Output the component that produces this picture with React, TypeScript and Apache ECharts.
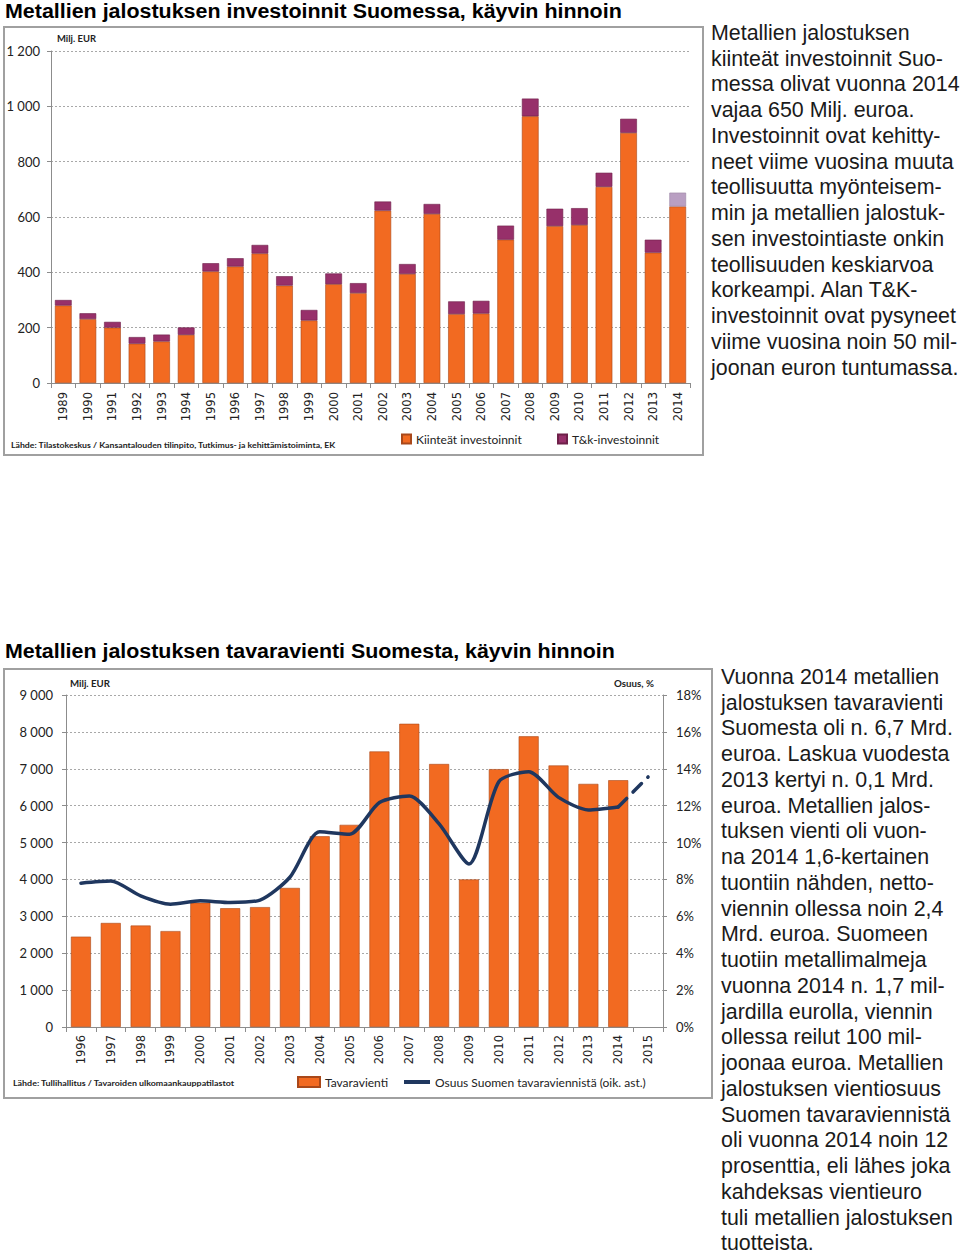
import React, { useEffect, useRef } from "react";
import * as echarts from "echarts";

// ---------- Data: investments (top chart) ----------
const invYears = [
  "1989", "1990", "1991", "1992", "1993", "1994", "1995", "1996", "1997",
  "1998", "1999", "2000", "2001", "2002", "2003", "2004", "2005", "2006",
  "2007", "2008", "2009", "2010", "2011", "2012", "2013", "2014",
];
const fixedInvestments = [
  280, 231, 200, 142, 150, 174, 403, 421, 468, 352, 226, 357, 325, 623, 394,
  611, 249, 251, 518, 964, 567, 571, 709, 904, 471, 638,
];
const rdInvestments = [
  20, 21, 21, 24, 25, 27, 30, 30, 31, 34, 38, 39, 36, 33, 36, 36, 46, 46, 51,
  64, 63, 61, 51, 51, 47, 50,
];
const invTicks = [0, 200, 400, 600, 800, 1000, 1200];

// ---------- Data: exports (bottom chart) ----------
const expYears = [
  "1996", "1997", "1998", "1999", "2000", "2001", "2002", "2003", "2004",
  "2005", "2006", "2007", "2008", "2009", "2010", "2011", "2012", "2013",
  "2014", "2015",
];
const exportsValue = [
  2450, 2820, 2750, 2600, 3370, 3220, 3250, 3770, 5170, 5480, 7470, 8220,
  7130, 4000, 6990, 7880, 7090, 6590, 6690, null,
];
const exportShare = [
  7.8, 7.91, 7.11, 6.66, 6.84, 6.75, 6.88, 8.12, 10.58, 10.45, 12.17, 12.53,
  11.01, 8.84, 13.3, 13.84, 12.45, 11.77, 11.93, null,
];
const exportShareEstimate2015 = 13.56;
const expTicks = [0, 1000, 2000, 3000, 4000, 5000, 6000, 7000, 8000, 9000];
const shareTicks = [0, 2, 4, 6, 8, 10, 12, 14, 16, 18];

// ---------- Texts ----------
const title1 = "Metallien jalostuksen investoinnit Suomessa, käyvin hinnoin";
const title2 = "Metallien jalostuksen tavaravienti Suomesta, käyvin hinnoin";
const source1 =
  "Lähde: Tilastokeskus / Kansantalouden tilinpito, Tutkimus- ja kehittämistoiminta, EK";
const source2 = "Lähde: Tullihallitus / Tavaroiden ulkomaankauppatilastot";
const legendFixed = "Kiinteät investoinnit";
const legendRd = "T&k-investoinnit";
const legendExports = "Tavaravienti";
const legendShare = "Osuus Suomen tavaraviennistä (oik. ast.)";

const text1Lines = [
  "Metallien jalostuksen",
  "kiinteät investoinnit Suo-",
  "messa olivat vuonna 2014",
  "vajaa 650 Milj. euroa.",
  "Investoinnit ovat kehitty-",
  "neet viime vuosina muuta",
  "teollisuutta myönteisem-",
  "min ja metallien jalostuk-",
  "sen investointiaste onkin",
  "teollisuuden keskiarvoa",
  "korkeampi. Alan T&K-",
  "investoinnit ovat pysyneet",
  "viime vuosina noin 50 mil-",
  "joonan euron tuntumassa.",
];
const text2Lines = [
  "Vuonna 2014 metallien",
  "jalostuksen tavaravienti",
  "Suomesta oli n. 6,7 Mrd.",
  "euroa. Laskua vuodesta",
  "2013 kertyi n. 0,1 Mrd.",
  "euroa. Metallien jalos-",
  "tuksen vienti oli vuon-",
  "na 2014 1,6-kertainen",
  "tuontiin nähden, netto-",
  "viennin ollessa noin 2,4",
  "Mrd. euroa. Suomeen",
  "tuotiin metallimalmeja",
  "vuonna 2014 n. 1,7 mil-",
  "jardilla eurolla, viennin",
  "ollessa reilut 100 mil-",
  "joonaa euroa. Metallien",
  "jalostuksen vientiosuus",
  "Suomen tavaraviennistä",
  "oli vuonna 2014 noin 12",
  "prosenttia, eli lähes joka",
  "kahdeksas vientieuro",
  "tuli metallien jalostuksen",
  "tuotteista.",
];

const ORANGE = "#f26a21";
const PURPLE = "#97306a";
const PURPLE_LIGHT = "#b99fc2";
const NAVY = "#1f375f";
const GRID = "#a8a8a8";
const AXIS = "#8c8c8c";
const TEXT = "#222222";

const thousands = (v: number) =>
  v >= 1000 ? `${Math.floor(v / 1000)} ${String(v % 1000).padStart(3, "0")}` : String(v);

let measureCtx: CanvasRenderingContext2D | null = null;
function fitScale(text: string, font: string, target: number) {
  if (!measureCtx) measureCtx = document.createElement("canvas").getContext("2d");
  if (!measureCtx) return 1;
  measureCtx.font = font;
  const w = measureCtx.measureText(text).width;
  return w > 0 ? target / w : 1;
}

function fittedText(
  text: string,
  x: number,
  y: number,
  font: string,
  width: number,
  fill = "#000"
) {
  return {
    type: "text",
    x,
    y,
    scaleX: fitScale(text, font, width),
    style: { text, font, fill, textAlign: "left", textVerticalAlign: "middle" },
    silent: true,
  };
}

export default function App() {
  const ref = useRef<HTMLDivElement>(null);

  useEffect(() => {
    if (!ref.current) return;
    const chart = echarts.init(ref.current, null, { renderer: "svg" });

    const titleFont = 'bold 20px "Liberation Sans", Arial, sans-serif';
    const smallBold = 'bold 9px Lato, "Open Sans", sans-serif';
    const sourceFont = 'bold 8px Lato, "Open Sans", sans-serif';
    const paraFont = '21.4px "Liberation Sans", Arial, sans-serif';

    const rdData = rdInvestments.map((v, i) =>
      i === rdInvestments.length - 1
        ? { value: v, itemStyle: { color: PURPLE_LIGHT, borderColor: "#9a86a4" } }
        : v
    );
    const shareDashed = exportShare.map((v, i) =>
      i === exportShare.length - 2 ? v : i === exportShare.length - 1 ? exportShareEstimate2015 : null
    );

    const catAxisCommon = {
      type: "category",
      boundaryGap: true,
      axisLine: { show: true, lineStyle: { color: AXIS, width: 1 } },
      axisTick: { show: true, interval: 0, length: 5, lineStyle: { color: AXIS } },
      axisLabel: {
        rotate: 90,
        interval: 0,
        fontFamily: '"DejaVu Sans", Verdana, sans-serif',
        fontSize: 11.5,
        color: TEXT,
      },
    };
    const valAxisCommon = {
      type: "value",
      axisLine: { show: true, lineStyle: { color: AXIS, width: 1 } },
      axisTick: { show: true, length: 4, lineStyle: { color: AXIS } },
      splitLine: { show: true, lineStyle: { color: GRID, type: [2, 2], width: 1 } },
      axisLabel: { fontFamily: "Lato, sans-serif", fontSize: 13, color: TEXT },
    };
    const legendText = { fontFamily: "Lato, sans-serif", fontSize: 12, color: TEXT };

    const option: any = {
      animation: false,
      backgroundColor: "#ffffff",
      grid: [
        { left: 51, top: 51, width: 639, height: 332, containLabel: false },
        { left: 66, top: 695, width: 597, height: 332, containLabel: false },
      ],
      xAxis: [
        {
          ...catAxisCommon,
          gridIndex: 0,
          data: invYears,
          axisLabel: { ...catAxisCommon.axisLabel, margin: 9 },
        },
        {
          ...catAxisCommon,
          gridIndex: 1,
          data: expYears,
          axisLabel: { ...catAxisCommon.axisLabel, margin: 8 },
        },
      ],
      yAxis: [
        {
          ...valAxisCommon,
          gridIndex: 0,
          min: invTicks[0],
          max: invTicks[invTicks.length - 1],
          interval: 200,
          axisLabel: { ...valAxisCommon.axisLabel, margin: 11, formatter: thousands },
        },
        {
          ...valAxisCommon,
          gridIndex: 1,
          min: expTicks[0],
          max: expTicks[expTicks.length - 1],
          interval: 1000,
          axisLabel: { ...valAxisCommon.axisLabel, margin: 13, formatter: thousands },
        },
        {
          ...valAxisCommon,
          gridIndex: 1,
          position: "right",
          min: shareTicks[0],
          max: shareTicks[shareTicks.length - 1],
          interval: 2,
          splitLine: { show: false },
          axisLabel: { ...valAxisCommon.axisLabel, margin: 13, formatter: "{value}%" },
        },
      ],
      legend: [
        {
          data: [{ name: legendFixed, icon: "rect" }],
          left: 401,
          top: 433,
          padding: 0,
          itemWidth: 9,
          itemHeight: 9,
          textStyle: legendText,
          selectedMode: false,
        },
        {
          data: [{ name: legendRd, icon: "rect" }],
          left: 557,
          top: 433,
          padding: 0,
          itemWidth: 9,
          itemHeight: 9,
          textStyle: legendText,
          selectedMode: false,
        },
        {
          data: [{ name: legendExports, icon: "rect" }],
          left: 297,
          top: 1076,
          padding: 0,
          itemWidth: 22,
          itemHeight: 10,
          textStyle: legendText,
          selectedMode: false,
        },
        {
          data: [{ name: legendShare, icon: "rect" }],
          left: 404,
          top: 1076,
          padding: 0,
          itemWidth: 26,
          itemHeight: 4,
          textStyle: legendText,
          selectedMode: false,
        },
      ],
      series: [
        {
          name: legendFixed,
          type: "bar",
          stack: "inv",
          xAxisIndex: 0,
          yAxisIndex: 0,
          barWidth: "68%",
          data: fixedInvestments,
          itemStyle: { color: ORANGE, borderColor: "#a9481a", borderWidth: 0.6 },
        },
        {
          name: legendRd,
          type: "bar",
          stack: "inv",
          xAxisIndex: 0,
          yAxisIndex: 0,
          barWidth: "68%",
          data: rdData,
          itemStyle: { color: PURPLE, borderColor: "#6e2049", borderWidth: 0.6 },
        },
        {
          name: legendExports,
          type: "bar",
          xAxisIndex: 1,
          yAxisIndex: 1,
          barWidth: "67%",
          data: exportsValue,
          itemStyle: { color: ORANGE, borderColor: "#a9481a", borderWidth: 0.6 },
        },
        {
          name: legendShare,
          type: "line",
          xAxisIndex: 1,
          yAxisIndex: 2,
          data: exportShare,
          smooth: 0.25,
          symbol: "none",
          connectNulls: false,
          itemStyle: { color: NAVY },
          lineStyle: { color: NAVY, width: 3.5, cap: "round", join: "round" },
          z: 3,
        },
        {
          name: "Osuus 2015 (arvio)",
          type: "line",
          xAxisIndex: 1,
          yAxisIndex: 2,
          data: shareDashed,
          symbol: "none",
          itemStyle: { color: NAVY },
          lineStyle: { color: NAVY, width: 3.5, type: [12, 9], cap: "round" },
          z: 3,
        },
      ],
      graphic: [
        {
          type: "rect",
          shape: { x: 4, y: 27, width: 699, height: 428 },
          style: { fill: "none", stroke: "#a0a0a0", lineWidth: 2 },
          silent: true,
          z: -1,
        },
        {
          type: "rect",
          shape: { x: 4, y: 669, width: 708, height: 429 },
          style: { fill: "none", stroke: "#a0a0a0", lineWidth: 2 },
          silent: true,
          z: -1,
        },
        fittedText(title1, 5, 11, titleFont, 617),
        fittedText(title2, 5, 651, titleFont, 610),
        fittedText("Milj. EUR", 57, 39, smallBold, 39, TEXT),
        fittedText("Milj. EUR", 70, 684, smallBold, 40, TEXT),
        fittedText("Osuus, %", 614, 684, smallBold, 40, TEXT),
        fittedText(source1, 11, 445, sourceFont, 325, TEXT),
        fittedText(source2, 13, 1083, sourceFont, 222, TEXT),
        {
          type: "text",
          x: 711,
          y: 20,
          style: {
            text: text1Lines.join("\n"),
            font: paraFont,
            fill: "#1a1a1a",
            lineHeight: 25.75,
            textAlign: "left",
            textVerticalAlign: "top",
          },
          silent: true,
        },
        {
          type: "text",
          x: 721,
          y: 664,
          style: {
            text: text2Lines.join("\n"),
            font: paraFont,
            fill: "#1a1a1a",
            lineHeight: 25.75,
            textAlign: "left",
            textVerticalAlign: "top",
          },
          silent: true,
        },
      ],
    };

    chart.setOption(option);
    return () => chart.dispose();
  }, []);

  return (
    <div
      ref={ref}
      style={{ position: "absolute", left: 0, top: 0, width: 960, height: 1256 }}
    />
  );
}
